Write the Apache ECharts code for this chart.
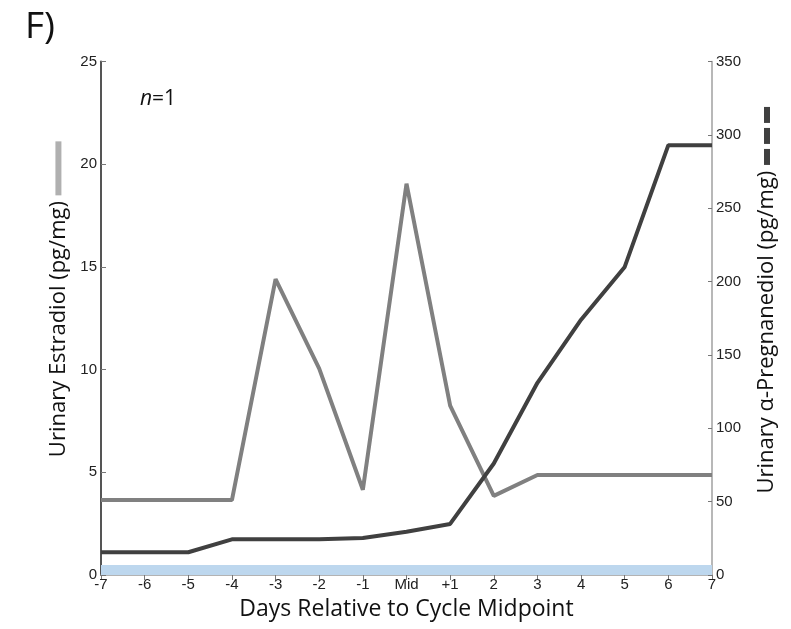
<!DOCTYPE html>
<html><head><meta charset="utf-8">
<script src="https://cdn.jsdelivr.net/npm/echarts@6/dist/echarts.min.js"></script>
<style>html,body{margin:0;padding:0;background:#fff}#c{width:791px;height:629px}</style>
</head><body><div id="c"></div>
<script>
const days = ['-7','-6','-5','-4','-3','-2','-1','Mid','+1','2','3','4','5','6','7'];
const estradiol = [3.65,3.65,3.65,3.65,14.4,10.05,4.15,19.05,8.25,3.85,4.87,4.87,4.87,4.87,4.87];
const pregnanediol = [15.5,15.5,15.5,24.3,24.3,24.3,25.2,29.5,34.8,76,131,174,210,293,293];
const leftTicks = {min:0,max:25,interval:5};
const rightTicks = {min:0,max:350,interval:50};

const chart = echarts.init(document.getElementById('c'));
const tickLabel = {color:'#222',fontFamily:'Liberation Sans, Arial',fontSize:15};
const titleFont = 'Open Sans, Noto Sans, sans-serif';
chart.setOption({
  animation:false,
  title:[
    {text:'F)',left:20,top:4,textStyle:{fontFamily:titleFont,fontSize:37,fontWeight:'normal',color:'#111'}},
    {text:'{i|n}=1',left:135,top:84,textStyle:{fontFamily:titleFont,fontSize:21,fontWeight:'normal',color:'#111',
      rich:{i:{fontStyle:'italic',fontFamily:titleFont,fontSize:21,color:'#111'}}}}
  ],
  grid:{left:101,right:79,top:61.5,bottom:54},
  xAxis:[
    {type:'category',data:days,boundaryGap:false,position:'bottom',
     axisLine:{show:false},axisTick:{show:false},
     axisLabel:Object.assign({margin:2,interval:0},tickLabel),
     name:'Days Relative to Cycle Midpoint',nameLocation:'middle',nameGap:23,
     nameTextStyle:{fontFamily:titleFont,fontSize:23,color:'#111'}},
    {type:'category',data:days,boundaryGap:false,position:'top',
     axisLine:{show:true,lineStyle:{color:'#9a9a9a',width:1.5}},
     axisTick:{show:true,inside:true,length:5,interval:0,lineStyle:{color:'#777'}},
     axisLabel:{show:false}}
  ],
  yAxis:[
    {type:'value',min:leftTicks.min,max:leftTicks.max,interval:leftTicks.interval,position:'left',
     axisLine:{show:true,lineStyle:{color:'#555',width:2}},
     axisTick:{show:true,inside:true,length:5,lineStyle:{color:'#777'}},
     splitLine:{show:false},
     axisLabel:Object.assign({margin:4},tickLabel),
     name:'{s|}Urinary Estradiol (pg/mg) {b|}',nameLocation:'middle',nameGap:30,nameRotate:90,
     nameTextStyle:{fontFamily:titleFont,fontSize:22,color:'#111',
       rich:{s:{width:38,height:6},b:{width:54,height:6,backgroundColor:'#b0b0b0'}}}},
    {type:'value',min:rightTicks.min,max:rightTicks.max,interval:rightTicks.interval,position:'right',
     axisLine:{show:true,lineStyle:{color:'#a0a0a0',width:1.5}},
     axisTick:{show:true,inside:true,length:4,lineStyle:{color:'#777'}},
     splitLine:{show:false},
     axisLabel:Object.assign({margin:4},tickLabel),
     name:'{s|}Urinary α-Pregnanediol (pg/mg) {d|}{g|}{d|}{g|}{d|}',nameLocation:'middle',nameGap:44,nameRotate:90,
     nameTextStyle:{fontFamily:titleFont,fontSize:22,color:'#111',
       rich:{s:{width:36,height:6},d:{width:16,height:6,backgroundColor:'#404040'},g:{width:5,height:6}}}}
  ],
  series:[
    {type:'line',name:'Estradiol',data:estradiol,xAxisIndex:0,yAxisIndex:0,symbol:'none',
     lineStyle:{color:'#808080',width:4},z:3,
     markArea:{silent:true,itemStyle:{color:'#bdd7ee'},data:[[{yAxis:0,xAxis:'-7'},{yAxis:0.49,xAxis:'7'}]]}},
    {type:'line',name:'Pregnanediol',data:pregnanediol,xAxisIndex:0,yAxisIndex:1,symbol:'none',
     lineStyle:{color:'#404040',width:4},z:4}
  ]
});
</script></body></html>
